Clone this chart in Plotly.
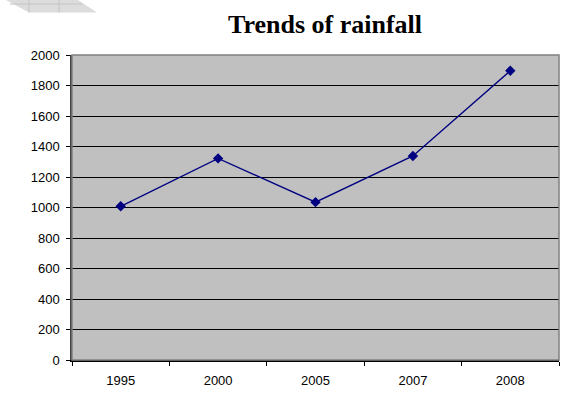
import plotly.graph_objects as go

# Annual rainfall series
years = ["1995", "2000", "2005", "2007", "2008"]
rainfall = [1008, 1322, 1035, 1338, 1897]
y_ticks = [0, 200, 400, 600, 800, 1000, 1200, 1400, 1600, 1800, 2000]

W, H = 561, 397
L, R, T, B = 72, 2, 55, 37
pw, ph = W - L - R, H - T - B


def px(x):
    return (x - L) / pw


def py(y):
    return (H - B - y) / ph


fig = go.Figure(
    go.Scatter(
        x=years,
        y=rainfall,
        mode="lines+markers",
        line=dict(color="#000080", width=1.4),
        marker=dict(symbol="diamond", size=8, color="#000080"),
        showlegend=False,
        cliponaxis=False,
    )
)

shapes = [
    # plot frame
    dict(type="rect", xref="paper", yref="paper", x0=0, x1=1, y0=0, y1=1,
         line=dict(color="#808080", width=1.5), layer="above"),
    # faint tiled decoration in the upper-left corner
    dict(type="path", xref="paper", yref="paper",
         path=f"M {px(6)} {py(0)} L {px(78)} {py(0)} L {px(97)} {py(12.5)} "
              f"L {px(29)} {py(12.5)} Z",
         fillcolor="#dcdcdc", line=dict(width=0)),
    dict(type="line", xref="paper", yref="paper", x0=px(29), x1=px(29),
         y0=py(0), y1=py(12.5), line=dict(color="#c4c4c4", width=1)),
    dict(type="line", xref="paper", yref="paper", x0=px(59), x1=px(59),
         y0=py(0), y1=py(12.5), line=dict(color="#c4c4c4", width=1)),
    dict(type="line", xref="paper", yref="paper", x0=px(10), x1=px(82),
         y0=py(4), y1=py(4), line=dict(color="#c4c4c4", width=1)),
]

fig.update_layout(
    width=W,
    height=H,
    margin=dict(l=L, r=R, t=T, b=B),
    paper_bgcolor="white",
    plot_bgcolor="#c0c0c0",
    font=dict(family="Liberation Sans, Arial, sans-serif", size=13, color="black"),
    title=dict(
        text="<b>Trends of rainfall</b>",
        font=dict(family="Liberation Serif, Times New Roman, serif", size=26, color="black"),
        x=px(325), xref="paper", xanchor="center",
        y=1 - 24 / H, yref="container", yanchor="middle",
    ),
    xaxis=dict(
        type="category",
        tickson="boundaries",
        ticks="outside",
        ticklen=4,
        tickcolor="black",
        showline=True,
        linecolor="black",
        linewidth=1.5,
        showgrid=False,
        ticklabelstandoff=8,
        range=[-0.5, 4.5],
        fixedrange=True,
    ),
    yaxis=dict(
        range=[0, 2000],
        tickvals=y_ticks,
        ticks="outside",
        ticklen=4,
        tickcolor="black",
        showline=True,
        linecolor="#404040",
        linewidth=1.5,
        showgrid=True,
        gridcolor="black",
        gridwidth=1,
        zeroline=False,
        ticklabelstandoff=4,
        fixedrange=True,
    ),
    shapes=shapes,
)

fig.write_html("out.html")
